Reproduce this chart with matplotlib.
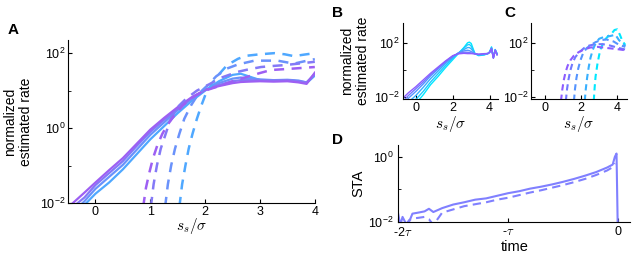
import matplotlib
matplotlib.use("Agg")
import matplotlib.pyplot as plt
import matplotlib.transforms as mtransforms
from matplotlib.ticker import NullFormatter, FixedLocator
import numpy as np

plt.rcParams['font.family'] = ['Liberation Sans', 'DejaVu Sans']
plt.rcParams['mathtext.fontset'] = 'cm'
plt.rcParams['axes.unicode_minus'] = False

# ---- panel A: log10 of normalized estimated rate ----
xa_solid = [-0.45, -0.2, 0.0, 0.25, 0.5, 0.75, 1.0, 1.25, 1.5, 1.75, 2.0, 2.25, 2.5, 2.65,
            2.8, 3.0, 3.25, 3.5, 3.7, 3.85, 4.0]
a_solid = [
    [-2.4, -2.05, -1.75, -1.45, -1.1, -0.7, -0.3, 0.05, 0.4, 0.72, 1.0, 1.25, 1.42, 1.45, 1.38, 1.28, 1.27, 1.27, 1.25, 1.2, 1.4],
    [-2.3, -1.95, -1.62, -1.3, -0.98, -0.58, -0.18, 0.15, 0.48, 0.78, 1.02, 1.2, 1.32, 1.35, 1.33, 1.3, 1.28, 1.29, 1.27, 1.22, 1.42],
    [-2.15, -1.85, -1.52, -1.2, -0.88, -0.48, -0.1, 0.22, 0.52, 0.8, 1.02, 1.15, 1.25, 1.28, 1.28, 1.27, 1.27, 1.28, 1.25, 1.22, 1.45],
    [-2.05, -1.72, -1.45, -1.12, -0.8, -0.42, -0.04, 0.27, 0.56, 0.82, 1.02, 1.12, 1.2, 1.23, 1.24, 1.25, 1.24, 1.25, 1.22, 1.18, 1.48],
]
xa_dash = [
    [1.53, 1.58, 1.64, 1.7, 1.77, 1.85, 1.93, 2.02, 2.2, 2.4, 2.6, 2.75, 3.0, 3.26, 3.45, 3.62, 3.8, 4.0],
    [1.27, 1.32, 1.38, 1.45, 1.53, 1.62, 1.74, 1.87, 2.05, 2.2, 2.4, 2.6, 2.9, 3.1, 3.32, 3.62, 3.8, 4.0],
    [1.01, 1.06, 1.12, 1.19, 1.27, 1.36, 1.49, 1.65, 1.85, 2.05, 2.3, 2.59, 2.8, 3.02, 3.25, 3.44, 3.7, 4.0],
    [0.87, 0.92, 0.98, 1.05, 1.13, 1.22, 1.32, 1.42, 1.6, 1.8, 2.0, 2.25, 2.5, 2.77, 3.0, 3.2, 3.62, 4.0],
]
a_dash = [
    [-2.1, -1.5, -1.0, -0.55, -0.15, 0.25, 0.6, 0.95, 1.35, 1.68, 1.85, 1.93, 1.97, 2.0, 1.97, 1.92, 1.96, 2.0],
    [-2.1, -1.5, -1.0, -0.55, -0.15, 0.25, 0.6, 0.9, 1.15, 1.38, 1.59, 1.7, 1.8, 1.8, 1.8, 1.72, 1.78, 1.84],
    [-2.1, -1.5, -1.0, -0.55, -0.2, 0.2, 0.55, 0.78, 1.0, 1.15, 1.35, 1.5, 1.57, 1.63, 1.66, 1.68, 1.72, 1.77],
    [-2.1, -1.6, -1.2, -0.8, -0.45, -0.15, 0.1, 0.3, 0.62, 0.85, 1.0, 1.12, 1.25, 1.37, 1.47, 1.55, 1.59, 1.63],
]
cols_a = ['#4fa8ff', '#6a92fb', '#8479f7', '#9d5ff3']

# ---- panel B ----
xb = [-0.7, -0.4, 0.0, 0.4, 0.8, 1.2, 1.6, 2.0, 2.3, 2.6, 2.8, 2.9, 3.0, 3.2, 3.4, 3.7, 3.9,
      4.0, 4.1, 4.2, 4.3, 4.4]
b_curves = [
    [-3.5, -3.0, -2.5, -1.85, -1.1, -0.5, 0.15, 0.75, 1.2, 1.65, 2.0, 2.05, 1.95, 1.2, 1.05, 1.1, 1.2, 1.35, 1.7, 0.95, 1.5, 1.2],
    [-3.2, -2.7, -2.2, -1.6, -0.9, -0.3, 0.3, 0.85, 1.22, 1.6, 1.85, 1.88, 1.75, 1.2, 1.08, 1.12, 1.2, 1.3, 1.65, 0.9, 1.45, 1.15],
    [-2.9, -2.4, -1.9, -1.3, -0.65, -0.1, 0.45, 0.92, 1.25, 1.5, 1.65, 1.65, 1.55, 1.2, 1.1, 1.15, 1.2, 1.32, 1.6, 0.92, 1.5, 1.2],
    [-2.6, -2.1, -1.6, -1.05, -0.45, 0.05, 0.55, 0.98, 1.25, 1.4, 1.45, 1.42, 1.35, 1.2, 1.12, 1.15, 1.2, 1.28, 1.55, 0.88, 1.42, 1.12],
    [-2.35, -1.9, -1.4, -0.9, -0.35, 0.12, 0.6, 1.02, 1.22, 1.3, 1.3, 1.28, 1.25, 1.18, 1.15, 1.18, 1.22, 1.3, 1.6, 0.9, 1.45, 1.15],
    [-2.1, -1.7, -1.25, -0.75, -0.25, 0.2, 0.65, 1.05, 1.18, 1.22, 1.2, 1.2, 1.2, 1.18, 1.15, 1.2, 1.2, 1.3, 1.55, 0.85, 1.45, 1.1],
]
cols_b = ['#00e8ff', '#1cccff', '#38b0ff', '#5594ff', '#7178ff', '#8d5cff']

# ---- panel C (dashed) ----
xc = [
    [2.7, 2.75, 2.8, 2.9, 3.0, 3.1, 3.3, 3.5, 3.7, 3.85, 4.0, 4.15, 4.3, 4.45],
    [2.2, 2.26, 2.33, 2.42, 2.52, 2.65, 2.8, 3.0, 3.3, 3.6, 3.9, 4.1, 4.3, 4.45],
    [1.6, 1.66, 1.74, 1.84, 1.96, 2.1, 2.3, 2.55, 2.8, 3.1, 3.4, 3.8, 4.1, 4.45],
    [1.15, 1.22, 1.3, 1.4, 1.52, 1.68, 1.9, 2.15, 2.45, 2.8, 3.2, 3.6, 4.0, 4.45],
    [0.88, 0.95, 1.03, 1.13, 1.25, 1.4, 1.6, 1.85, 2.15, 2.5, 2.9, 3.4, 3.9, 4.45],
]
c_curves = [
    [-2.3, -1.3, -0.5, 0.4, 1.1, 1.6, 2.2, 2.5, 2.7, 2.95, 3.0, 2.6, 2.1, 1.85],
    [-2.3, -1.4, -0.6, 0.2, 0.9, 1.5, 1.95, 2.3, 2.45, 2.5, 2.6, 2.2, 1.95, 1.75],
    [-2.3, -1.4, -0.6, 0.1, 0.7, 1.2, 1.6, 1.85, 2.05, 2.2, 2.25, 2.1, 1.85, 1.7],
    [-2.3, -1.4, -0.7, -0.05, 0.5, 0.95, 1.3, 1.6, 1.8, 1.9, 1.9, 1.8, 1.65, 1.5],
    [-2.3, -1.5, -0.8, -0.2, 0.3, 0.7, 1.05, 1.3, 1.5, 1.65, 1.7, 1.62, 1.55, 1.45],
]
cols_c = ['#00e8ff', '#38b0ff', '#5594ff', '#7178ff', '#8d5cff']

# ---- panel D: STA (log10), time in units of tau ----
xd = [-2.0, -1.98, -1.96, -1.93, -1.9, -1.87, -1.82, -1.76, -1.72, -1.68, -1.6, -1.5, -1.4,
      -1.3, -1.2, -1.1, -1.0, -0.9, -0.8, -0.7, -0.6, -0.5, -0.4, -0.3, -0.2, -0.1, -0.05,
      -0.03, -0.015, 0.0]
d_solid = [-1.75, -2.1, -1.85, -2.05, -2.0, -1.75, -1.72, -1.68, -1.6, -1.7, -1.58, -1.47,
           -1.4, -1.32, -1.28, -1.2, -1.12, -1.06, -0.98, -0.92, -0.85, -0.77, -0.68, -0.58,
           -0.47, -0.33, -0.24, 0.0, 0.1, -3.0]
d_dash = [-1.95, -2.1, -2.0, -2.1, -1.95, -1.9, -1.88, -1.85, -1.92, -2.1, -1.72, -1.62,
          -1.52, -1.46, -1.4, -1.32, -1.26, -1.18, -1.1, -1.03, -0.95, -0.87, -0.78, -0.68,
          -0.56, -0.42, -0.32, -0.2, None, None]
col_d = '#8080ff'


def style_axes(ax):
    ax.spines['top'].set_visible(False)
    ax.spines['right'].set_visible(False)
    ax.tick_params(which='both', direction='in', labelsize=9, pad=2)
    ax.tick_params(which='major', length=3)
    ax.tick_params(which='minor', length=2)


fig = plt.figure(figsize=(6.36, 2.6), dpi=100)

# panel A
axA = fig.add_axes([0.107, 0.219, 0.388, 0.627])
for ys, c in zip(a_solid, cols_a):
    axA.plot(xa_solid, 10 ** np.array(ys), color=c, lw=1.6)
for xs, ys, c in zip(xa_dash, a_dash, cols_a):
    axA.plot(xs, 10 ** np.array(ys), color=c, lw=1.8, dashes=(4, 3))
axA.set_yscale('log')
axA.set_xlim(-0.5, 4)
axA.set_ylim(1e-2, 10 ** 2.35)
axA.set_xticks([0, 1, 2, 3, 4])
axA.yaxis.set_major_locator(FixedLocator([1e-2, 1, 1e2]))
axA.yaxis.set_minor_locator(FixedLocator([1e-1, 1e1]))
axA.yaxis.set_minor_formatter(NullFormatter())
style_axes(axA)
axA.set_xlabel(r'$s_s/\sigma$', fontsize=11, labelpad=-1)
axA.set_ylabel('normalized\nestimated rate', fontsize=10, labelpad=5)

# panel B
axB = fig.add_axes([0.633, 0.62, 0.150, 0.29])
for ys, c in zip(b_curves, cols_b):
    axB.plot(xb, 10 ** np.array(ys), color=c, lw=1.0)
axB.set_yscale('log')
axB.set_xlim(-0.72, 4.45)
axB.set_ylim(10 ** -2.15, 10 ** 3.44)
axB.set_xticks([0, 2, 4])
axB.yaxis.set_major_locator(FixedLocator([1e-2, 1e2]))
axB.yaxis.set_minor_locator(FixedLocator([1]))
axB.yaxis.set_minor_formatter(NullFormatter())
style_axes(axB)
axB.set_xlabel(r'$s_s/\sigma$', fontsize=11, labelpad=0)
axB.set_ylabel('normalized\nestimated rate', fontsize=10, labelpad=3)

# panel C
axC = fig.add_axes([0.835, 0.62, 0.151, 0.29])
for xs, ys, c in zip(xc, c_curves, cols_c):
    axC.plot(xs, 10 ** np.array(ys), color=c, lw=1.5, dashes=(3, 2))
axC.set_yscale('log')
axC.set_xlim(-0.78, 4.55)
axC.set_ylim(10 ** -2.15, 10 ** 3.44)
axC.set_xticks([0, 2, 4])
axC.yaxis.set_major_locator(FixedLocator([1e-2, 1e2]))
axC.yaxis.set_minor_locator(FixedLocator([1]))
axC.yaxis.set_minor_formatter(NullFormatter())
style_axes(axC)
axC.set_xlabel(r'$s_s/\sigma$', fontsize=11, labelpad=0)

# panel D
axD = fig.add_axes([0.626, 0.147, 0.365, 0.295])
axD.plot(xd, 10 ** np.array(d_solid), color=col_d, lw=1.5)
dd = np.array([np.nan if v is None else v for v in d_dash], dtype=float)
axD.plot(xd, 10 ** dd, color=col_d, lw=1.5, dashes=(4, 2.5))
axD.set_yscale('log')
axD.set_xlim(-2.0, 0.11)
axD.set_ylim(1e-2, 10 ** 0.36)
axD.set_xticks([-2, -1, 0])
axD.set_xticklabels([r'-2$\tau$', r'-$\tau$', '0'])
axD.yaxis.set_major_locator(FixedLocator([1e-2, 1]))
axD.yaxis.set_minor_locator(FixedLocator([1e-1]))
axD.yaxis.set_minor_formatter(NullFormatter())
style_axes(axD)
axD.tick_params(axis='y', which='both', pad=3)
axD.tick_params(axis='x', which='both', pad=3)
# nudge the first time label right so it clears the 10^-2 label
lab0 = axD.get_xticklabels()[0]
lab0.set_transform(lab0.get_transform() + mtransforms.ScaledTranslation(5 / 100, 0, fig.dpi_scale_trans))
axD.set_xlabel('time', fontsize=10.5, labelpad=1)
axD.set_ylabel('STA', fontsize=10.5, labelpad=2)

# panel letters
fig.text(0.012, 0.87, 'A', fontsize=11, fontweight='bold')
fig.text(0.522, 0.935, 'B', fontsize=11, fontweight='bold')
fig.text(0.793, 0.935, 'C', fontsize=11, fontweight='bold')
fig.text(0.522, 0.445, 'D', fontsize=11, fontweight='bold')

fig.savefig('out.png', dpi=100)
